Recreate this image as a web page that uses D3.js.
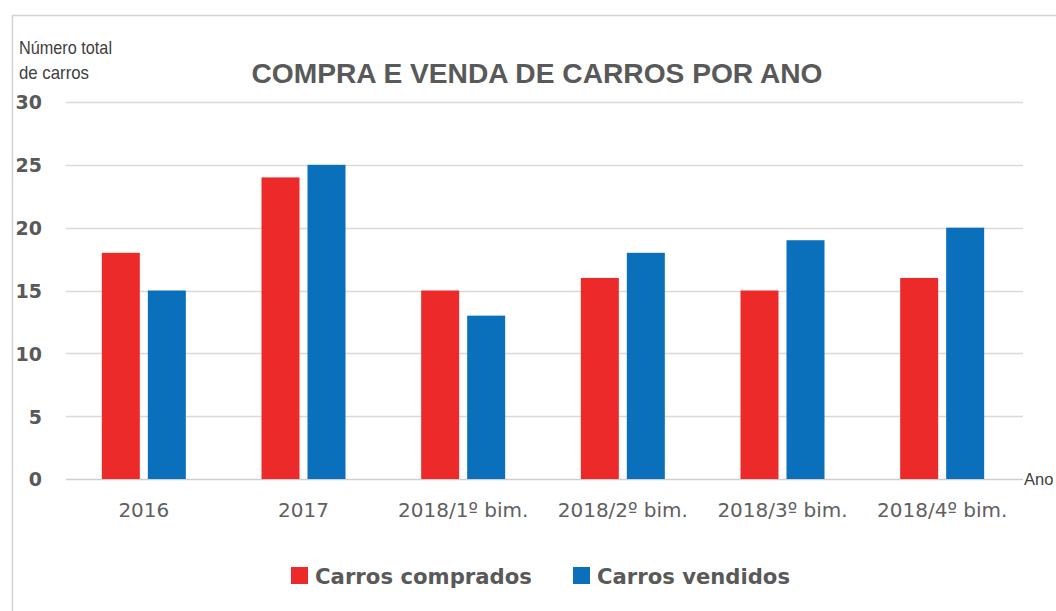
<!DOCTYPE html>
<html>
<head>
<meta charset="utf-8">
<script src="https://cdn.jsdelivr.net/npm/d3@7"></script>
<style>
  html, body { margin: 0; padding: 0; background: #fff; }
  svg { display: block; }
</style>
</head>
<body>
<svg id="chart" width="1056" height="611"></svg>
<script>
const categories = ["2016", "2017", "2018/1º bim.", "2018/2º bim.", "2018/3º bim.", "2018/4º bim."];
const seriesNames = ["Carros comprados", "Carros vendidos"];
const comprados = [18, 24, 15, 16, 15, 16];
const vendidos = [15, 25, 13, 18, 19, 20];
const yTicks = [0, 5, 10, 15, 20, 25, 30];
const colors = ["#ED2A2A", "#0A70BC"];
const titleText = "COMPRA E VENDA DE CARROS POR ANO";
const yLabelLines = ["Número total", "de carros"];
const xLabelText = "Ano";

const svg = d3.select("#chart");
const W = 1056, H = 611;
const plot = { left: 64, right: 1022, top: 102, bottom: 479 };

// frame lines
svg.append("line").attr("x1", 12.5).attr("x2", 12.5).attr("y1", 15).attr("y2", H)
  .attr("stroke", "#d4d4d4").attr("stroke-width", 1.5);
svg.append("line").attr("x1", 12).attr("x2", W).attr("y1", 15.5).attr("y2", 15.5)
  .attr("stroke", "#d4d4d4").attr("stroke-width", 1.5);

const y = d3.scaleLinear().domain([0, 30]).range([plot.bottom, plot.top]);
const x0 = d3.scaleBand().domain(categories).range([plot.left, plot.right]).padding(0);
const groupW = 84;
const x1 = d3.scaleBand().domain(seriesNames).range([0, groupW]).paddingInner(8 / 46).paddingOuter(0);

// gridlines
svg.append("g").selectAll("line").data(yTicks).join("line")
  .attr("x1", 66).attr("x2", 1023)
  .attr("y1", d => Math.round(y(d)) + 0.5).attr("y2", d => Math.round(y(d)) + 0.5)
  .attr("stroke", d => d === 0 ? "#cfcfcf" : "#d9d9d9").attr("stroke-width", 1.5);

// y axis labels via d3 axis
const yAxis = d3.axisLeft(y).tickValues(yTicks).tickSize(0).tickPadding(0);
const gy = svg.append("g").attr("transform", "translate(42,0)").call(yAxis);
gy.select(".domain").remove();
gy.selectAll("text")
  .attr("font-family", "DejaVu Sans, sans-serif").attr("font-size", 19).attr("font-weight", "bold")
  .attr("fill", "#595959").attr("dy", "0.36em");

// bars
const data = categories.map((c, i) => ({ cat: c, values: [comprados[i], vendidos[i]] }));
const groups = svg.append("g").selectAll("g").data(data).join("g")
  .attr("transform", d => `translate(${x0(d.cat) + x0.bandwidth() / 2 - groupW / 2},0)`);
groups.selectAll("rect").data(d => d.values.map((v, j) => ({ v, s: seriesNames[j], j })))
  .join("rect")
  .attr("x", d => x1(d.s))
  .attr("width", x1.bandwidth())
  .attr("y", d => y(d.v))
  .attr("height", d => y(0) - y(d.v))
  .attr("fill", d => colors[d.j]);

// x axis labels via d3 axis
const xAxis = d3.axisBottom(x0).tickSize(0).tickPadding(0);
const gx = svg.append("g").attr("transform", "translate(0,501)").call(xAxis);
gx.select(".domain").remove();
gx.selectAll("text")
  .attr("font-family", "DejaVu Sans, sans-serif").attr("font-size", 20)
  .attr("fill", "#606060").attr("dy", "0.8em");

// title
svg.append("text").attr("x", 537).attr("y", 83).attr("text-anchor", "middle")
  .attr("font-family", "Liberation Sans, Arial, sans-serif").attr("font-weight", "bold")
  .attr("font-size", 28).attr("fill", "#595959")
  .attr("textLength", 571).attr("lengthAdjust", "spacingAndGlyphs")
  .text(titleText);

// y axis title
svg.append("g").selectAll("text").data(yLabelLines).join("text")
  .attr("x", 19).attr("y", (d, i) => 54 + i * 25)
  .attr("font-family", "Liberation Sans Narrow, Liberation Sans, Arial, sans-serif")
  .attr("font-size", 19).attr("fill", "#404040")
  .attr("textLength", (d, i) => i === 0 ? 93 : 70).attr("lengthAdjust", "spacingAndGlyphs")
  .text(d => d);

// x axis title
svg.append("text").attr("x", 1024).attr("y", 485)
  .attr("font-family", "Liberation Sans, Arial, sans-serif")
  .attr("font-size", 16.5).attr("fill", "#404040")
  .text(xLabelText);

// legend
const legendItems = [
  { name: seriesNames[0], color: colors[0], x: 291, w: 217 },
  { name: seriesNames[1], color: colors[1], x: 573, w: 193 }
];
const lg = svg.append("g").selectAll("g").data(legendItems).join("g")
  .attr("transform", d => `translate(${d.x},0)`);
lg.append("rect").attr("x", 0).attr("y", 567).attr("width", 17).attr("height", 17)
  .attr("fill", d => d.color);
lg.append("text").attr("x", 24).attr("y", 584)
  .attr("font-family", "DejaVu Sans, sans-serif").attr("font-weight", "bold")
  .attr("font-size", 21).attr("fill", "#595959")
  .attr("textLength", d => d.w).attr("lengthAdjust", "spacingAndGlyphs")
  .text(d => d.name);
</script>
</body>
</html>
